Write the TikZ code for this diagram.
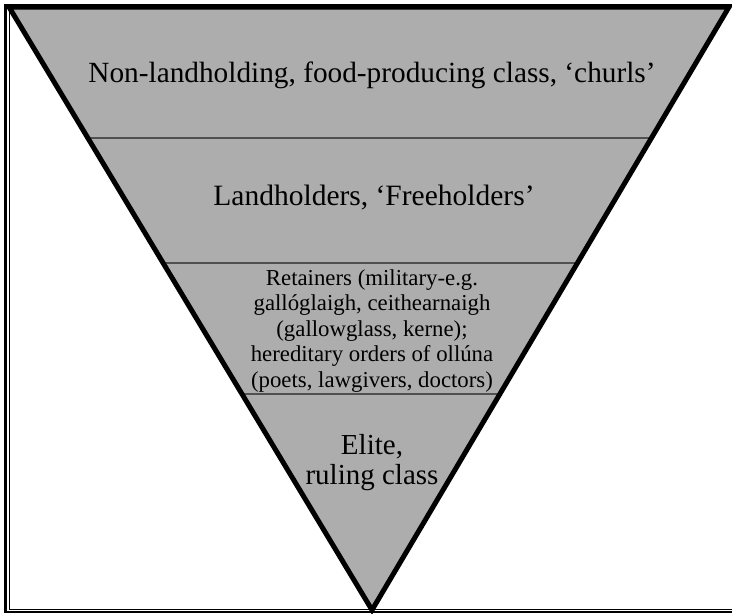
\documentclass[tikz,border=0pt]{standalone}
\usepackage{fontspec}
\setmainfont{Liberation Serif}
\usetikzlibrary{calc}
\definecolor{layerfill}{RGB}{173,173,173}
\definecolor{layerline}{RGB}{80,80,80}
\tikzset{
	tier/.style={text=black, align=center, inner sep=0pt},
	divider/.style={draw=layerline, line width=2pt},
}
\begin{document}
\begin{tikzpicture}[x=1pt, y=-1pt]
		\useasboundingbox (0,0) rectangle (732,614);
		% outer frame
		\draw[line width=2.5pt] (732,5) -- (5.5,5) -- (5.5,612) -- (732,612);
		\draw[line width=1pt] (9.5,5) -- (9.5,609) -- (732,609);

		\coordinate (tl) at (9,7);
		\coordinate (tr) at (729,7);
		\coordinate (bot) at (372,610);

		\fill[layerfill] (tl) -- (tr) -- (bot) -- cycle;
		\draw[divider] ($(tl)!0.2172!(bot)$) -- ($(tr)!0.2172!(bot)$);
		\draw[divider] ($(tl)!0.4245!(bot)$) -- ($(tr)!0.4245!(bot)$);
		\draw[divider] ($(tl)!0.6418!(bot)$) -- ($(tr)!0.6418!(bot)$);
		\draw[line width=5pt, line join=miter] (tl) -- (tr) -- (bot) -- cycle;

		\node (churls)[tier, anchor=base, font=\fontsize{29.3}{32}\selectfont] at (372,82) {Non-landholding, food-producing class, ‘churls’};
		\node (free)[tier, anchor=base, font=\fontsize{29.5}{32}\selectfont] at (374,205) {Landholders, ‘Freeholders’};
		\node (retain)[tier, font=\fontsize{22.8}{25.5}\selectfont] at (372,331) {Retainers (military-e.g.\\ gallóglaigh, ceithearnaigh\\ (gallowglass, kerne);\\ hereditary orders of ollúna\\ (poets, lawgivers, doctors)};
		\node (elite)[tier, font=\fontsize{29}{30}\selectfont] at (372,463) {Elite,\\ ruling class};
	\end{tikzpicture}
\end{document}
